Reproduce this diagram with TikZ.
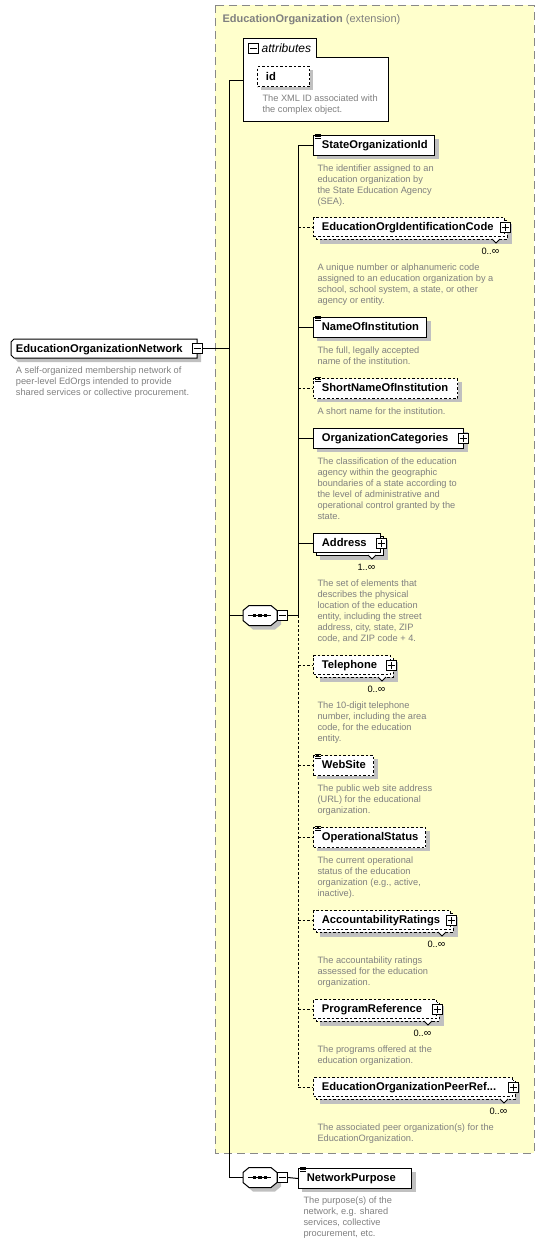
\documentclass[tikz,border=0pt]{standalone}
\usepackage{fontspec}
\setmainfont{Liberation Sans}
\usetikzlibrary{calc}
\definecolor{extfill}{RGB}{255,255,204}
\definecolor{extline}{RGB}{136,136,136}
\definecolor{shadowc}{RGB}{192,192,192}
\definecolor{desctext}{RGB}{128,128,128}
\tikzset{
  boxline/.style={draw=black, line width=1pt},
  dsh/.style={dash pattern=on 2.5pt off 2pt},
  conn/.style={draw=black, line width=1pt},
  elbox/.style={boxline, fill=white, inner sep=0pt, minimum height=20pt},
  elname/.style={font=\fontsize{11.2}{13}\selectfont\bfseries, inner sep=0pt},
  eldesc/.style={font=\fontsize{9.25}{11}\selectfont, text=desctext, align=left, inner sep=0pt, anchor=north west},
  elmult/.style={font=\fontsize{9.25}{11}\selectfont, inner sep=0pt},
  pmbox/.style={boxline, fill=white, inner sep=0pt, minimum size=10pt},
  plusbox/.style={pmbox, path picture={\draw[line width=1pt] ([xshift=-3.5pt]path picture bounding box.center) -- ([xshift=3.5pt]path picture bounding box.center) ([yshift=-3.5pt]path picture bounding box.center) -- ([yshift=3.5pt]path picture bounding box.center);}},
  minusbox/.style={pmbox, path picture={\draw[line width=1pt] ([xshift=-3.5pt]path picture bounding box.center) -- ([xshift=3.5pt]path picture bounding box.center);}},
}
\newcommand\dstrut{\rule{0pt}{7pt}}
\newcommand\infsym{{\fontsize{10.5}{11}\selectfont ∞}}
\newcommand\xsIcon[2]{\draw[line width=0.8pt] ({#1+2},{#2-0.2}) -- ({#1+7.5},{#2-0.2}) ({#1+2},{#2+1.8}) -- ({#1+7.5},{#2+1.8}) ({#1+2},{#2+3.8}) -- ({#1+7.5},{#2+3.8});}
\newcommand\xsSingle[6]{%
  \fill[shadowc] (317,{#2+4}) rectangle ({#3+5},{#2+24});
  \node[elbox,#5,minimum width={(#3-313)*1pt},anchor=north west] (#1) at (313,#2) {};
  \xsIcon{313}{#2}
  \node[elname,anchor=base west] (#1-t) at (321.7,{#2+13.6}) {#4};
  \node[eldesc] (#1-d) at (317.3,{#2+29}) {\dstrut#6};
  \draw[conn,#5] (spine |- #1.west) -- (#1.west);
}
\newcommand\xsMulti[7]{%
  \fill[shadowc] (320,{#2+7}) rectangle ({#3+8},{#2+27});
  \draw[boxline,#5,fill=white] (316,{#2+3}) rectangle ({#3+3},{#2+22});
  \draw[boxline,fill=white] ({#3-12},{#2+22}) -- ({#3-8},{#2+26}) -- ({#3-4},{#2+22});
  \node[elbox,#5,minimum width={(#3-313)*1pt},minimum height=19pt,anchor=north west] (#1) at (313,#2) {};
  \node[elname,anchor=base west] (#1-t) at (321.7,{#2+13.2}) {#4};
  \node[plusbox] (#1-p) at ({#3+1},{#2+10.5}) {};
  \node[elmult,anchor=base east] (#1-m) at ({#3-4.5},{#2+37}) {#6};
  \node[eldesc] (#1-d) at (317.3,{#2+46}) {\dstrut#7};
  \draw[conn,#5] (spine |- #1.west) -- (#1.west);
}
\newcommand\xsSeq[3]{%
  \fill[shadowc] ({#2+10},{#3-6}) -- ({#2+32},{#3-6}) -- ({#2+38},{#3-1}) -- ({#2+38},{#3+9}) -- ({#2+32},{#3+14}) -- ({#2+10},{#3+14}) -- ({#2+4},{#3+9}) -- ({#2+4},{#3-1}) -- cycle;
  \draw[boxline,fill=white] ({#2+6},{#3-10}) -- ({#2+28},{#3-10}) -- ({#2+34},{#3-5}) -- ({#2+34},{#3+5}) -- ({#2+28},{#3+10}) -- ({#2+6},{#3+10}) -- (#2,{#3+5}) -- (#2,{#3-5}) -- cycle;
  \node[inner sep=0pt,minimum width=34pt,minimum height=20pt] (#1) at ({#2+17},#3) {};
  \draw[line width=1pt] ({#2+5},#3) -- ({#2+28},#3);
  \fill ({#2+9.8},{#3-1.6}) rectangle ({#2+13.3},{#3+1.6});
  \fill ({#2+15.3},{#3-1.6}) rectangle ({#2+18.8},{#3+1.6});
  \fill ({#2+20.8},{#3-1.6}) rectangle ({#2+24.3},{#3+1.6});
  \node[minusbox] (#1-m) at ({#2+39.5},#3) {};
}
\begin{document}
\begin{tikzpicture}[x=1pt,y=-1pt]
\useasboundingbox (0,0) rectangle (545,1243);
% extension frame
\draw[draw=extline, fill=extfill, line width=1pt, dash pattern=on 8pt off 5pt] (215,5) rectangle (534,1153);
\node[inner sep=0pt, anchor=base west, text=desctext, font=\fontsize{11}{13}\selectfont] (exttitle) at (222.3,22.7) {\textbf{EducationOrganization} (extension)};
% spine coordinates
\coordinate (s1top) at (229,80);
\coordinate (s1bot) at (229,1177.5);
\coordinate (spine) at (298,615.5);
\draw[conn] (s1top) -- (s1bot);
% attributes
\draw[boxline, fill=white] (243,38) -- (316,38) -- (316,57) -- (388,57) -- (388,121) -- (243,121) -- cycle;
\node[inner sep=0pt, minimum width=145pt, minimum height=64pt, anchor=north west] (attrbody) at (243,57) {};
\node[minusbox] (attrm) at (253.5,48.5) {};
\node[inner sep=0pt, anchor=base west, font=\fontsize{12}{14}\selectfont\itshape] (attrt) at (261.5,52) {attributes};
\draw[conn] (s1top) -- (s1top -| attrbody.west);
\fill[shadowc] (261,70) rectangle (313,90);
\node[elbox, dsh, minimum width=52pt, anchor=north west] (idbox) at (257,66) {};
\node[elname, anchor=base west] (idt) at (265.7,80) {id};
\node[eldesc] (idd) at (262.3,94.7) {\dstrut The XML ID associated with\\the complex object.};
% main element
\fill[shadowc] (18,343) -- (201,343) -- (201,362) -- (18,362) -- (15,359) -- (15,346) -- cycle;
\draw[boxline, fill=white] (14,339) -- (197,339) -- (197,358) -- (14,358) -- (11,355) -- (11,342) -- cycle;
\node[elname, anchor=base west] (eon) at (15.7,352.5) {EducationOrganizationNetwork};
\node[minusbox] (eonm) at (197,348.5) {};
\node[eldesc] (eond) at (15.7,366) {\dstrut A self-organized membership network of\\peer-level EdOrgs intended to provide\\shared services or collective procurement.};
\draw[conn] (eonm.east) -- (eonm.east -| s1top);
% sequence 1
\xsSeq{seqa}{243}{615.5}
\draw[conn] (seqa.west -| s1top) -- (seqa.west);
\draw[conn] (seqa-m.east) -- (spine);
% children
\xsSingle{sid}{135}{434}{StateOrganizationId}{solid}{The identifier assigned to an\\education organization by\\the State Education Agency\\(SEA).}
\xsMulti{eoic}{217}{504}{EducationOrgIdentificationCode}{dsh}{0..\infsym}{A unique number or alphanumeric code\\assigned to an education organization by a\\school, school system, a state, or other\\agency or entity.}
\xsSingle{noi}{317}{426}{NameOfInstitution}{solid}{The full, legally accepted\\name of the institution.}
\xsSingle{snoi}{378}{457}{ShortNameOfInstitution}{dsh}{A short name for the institution.}
% OrganizationCategories
\fill[shadowc] (317,432) rectangle (468,452);
\node[elbox, minimum width=150pt, anchor=north west] (oc) at (313,428) {};
\node[elname, anchor=base west] (oc-t) at (321.7,441.6) {OrganizationCategories};
\node[plusbox] (oc-p) at (463,438) {};
\node[eldesc] (oc-d) at (317.3,457) {\dstrut The classification of the education\\agency within the geographic\\boundaries of a state according to\\the level of administrative and\\operational control granted by the\\state.};
\draw[conn] (spine |- oc.west) -- (oc.west);
\xsMulti{addr}{533}{380}{Address}{solid}{1..\infsym}{The set of elements that\\describes the physical\\location of the education\\entity, including the street\\address, city, state, ZIP\\code, and ZIP code + 4.}
\xsMulti{tel}{655}{390}{Telephone}{dsh}{0..\infsym}{The 10-digit telephone\\number, including the area\\code, for the education\\entity.}
\xsSingle{web}{755}{373}{WebSite}{dsh}{The public web site address\\(URL) for the educational\\organization.}
\xsSingle{ops}{827}{425}{OperationalStatus}{dsh}{The current operational\\status of the education\\organization (e.g., active,\\inactive).}
\xsMulti{acc}{910}{450}{AccountabilityRatings}{dsh}{0..\infsym}{The accountability ratings\\assessed for the education\\organization.}
\xsMulti{prog}{999}{436}{ProgramReference}{dsh}{0..\infsym}{The programs offered at the\\education organization.}
\xsMulti{peer}{1077}{512}{EducationOrganizationPeerRef...}{dsh}{0..\infsym}{The associated peer organization(s) for the\\EducationOrganization.}
% inner spine
\draw[conn] (spine |- sid.west) -- (spine);
\draw[conn, dsh] (spine) -- (spine |- peer.west);
% sequence 2
\xsSeq{seqb}{243}{1177.5}
\draw[conn] (s1bot) -- (seqb.west);
\fill[shadowc] (302,1172) rectangle (416,1192);
\node[elbox, minimum width=113pt, anchor=north west] (np) at (298,1168) {};
\xsIcon{298}{1168}
\node[elname, anchor=base west] (np-t) at (306.7,1181.6) {NetworkPurpose};
\node[eldesc] (np-d) at (303.3,1196.5) {\dstrut The purpose(s) of the\\network, e.g. shared\\services, collective\\procurement, etc.};
\draw[conn] (seqb-m.east) -- (np.west);
\end{tikzpicture}
\end{document}
